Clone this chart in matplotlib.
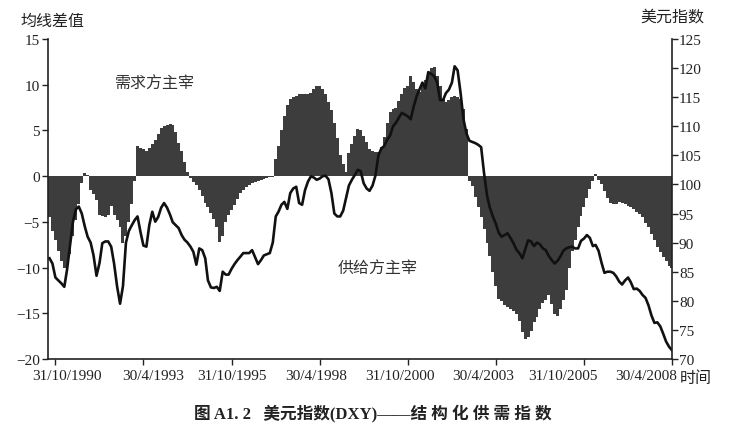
import pandas as pd
import numpy as np
import matplotlib.pyplot as plt

# monthly data, Aug 1990 .. Apr 2008
dates = pd.date_range("1990-08-31", periods=213, freq="ME")

# 均线差值 (left axis), one value per month
deviation = [
    -4.5, -6.0, -7.0, -8.2, -9.3, -10.0, -10.2, -8.5, -6.5, -4.8, -3.0, -0.8,
    0.3, 0.1, -1.5, -2.0, -2.6, -4.2, -4.4, -4.5, -4.2, -3.3, -4.2, -4.8,
    -5.6, -7.3, -6.5, -5.0, -3.0, -0.5, 3.3, 3.1, 3.0, 2.8, 3.1, 3.5,
    4.0, 4.6, 5.3, 5.5, 5.6, 5.7, 5.6, 4.8, 3.6, 2.7, 1.5, 0.4,
    -0.2, -0.6, -1.0, -1.5, -2.2, -2.9, -3.4, -4.0, -4.7, -5.6, -7.2, -6.6,
    -5.0, -4.3, -3.7, -3.2, -2.5, -1.8, -1.5, -1.2, -1.0, -0.8, -0.6, -0.5,
    -0.4, -0.3, -0.2, -0.15, -0.1, 1.9, 3.3, 5.0, 6.6, 7.8, 8.4, 8.7,
    8.8, 9.0, 9.0, 9.0, 9.0, 9.1, 9.5, 9.8, 9.8, 9.5, 9.0, 8.1,
    7.2, 5.8, 4.2, 2.3, 1.3, 0.4, 2.5, 3.5, 4.4, 5.2, 5.0, 4.4,
    3.7, 3.0, 2.7, 2.6, 2.6, 3.2, 4.3, 5.8, 7.0, 7.3, 7.5, 8.2,
    9.0, 9.6, 9.9, 11.0, 10.3, 9.5, 9.2, 9.8, 10.5, 11.3, 11.8, 11.9,
    11.0, 9.9, 8.4, 8.1, 8.3, 8.6, 8.8, 8.6, 8.4, 7.3, 5.2, -0.5,
    -1.1, -2.3, -3.4, -4.5, -5.8, -7.3, -8.7, -10.5, -12.0, -13.4, -13.7, -14.1,
    -14.3, -14.5, -14.7, -15.1, -15.8, -17.0, -17.8, -17.6, -16.9, -16.0, -15.4, -14.5,
    -13.9, -13.5, -13.0, -14.0, -15.1, -15.3, -14.5, -13.6, -12.5, -10.0, -8.2, -7.0,
    -5.6, -4.4, -3.4, -2.4, -1.4, -0.5, 0.2, -0.4, -0.9, -1.6, -2.4, -2.9,
    -3.0, -3.0, -2.8, -2.9, -3.1, -3.3, -3.4, -3.6, -3.9, -4.1, -4.5, -5.1,
    -5.6, -6.3, -7.0, -7.8, -8.3, -8.9, -9.3, -9.8, -10.1,
]

# 美元指数 DXY (right axis)
dxy = [
    87.3, 86.4, 84.0, 83.5, 83.0, 82.4, 85.3, 89.5, 93.5, 95.7, 96.2, 95.0,
    92.8, 91.0, 90.0, 87.8, 84.3, 86.5, 89.9, 90.2, 90.2, 89.3, 86.4, 82.5,
    79.5, 82.5, 90.0, 92.0, 93.0, 93.9, 94.5, 91.8, 89.5, 89.3, 93.0, 95.3,
    93.6, 94.4, 96.0, 96.8, 96.0, 94.8, 93.5, 93.0, 92.5, 91.3, 90.5, 90.0,
    89.3, 88.4, 86.2, 89.0, 88.7, 87.3, 83.5, 82.3, 82.2, 82.4, 81.7, 85.0,
    84.5, 84.5, 85.5, 86.3, 87.0, 87.6, 88.2, 88.2, 88.2, 88.7, 87.5, 86.3,
    87.0, 87.8, 88.0, 88.2, 90.0, 94.5, 95.3, 96.5, 97.0, 95.8, 98.5, 99.3,
    99.6, 96.8, 96.5, 99.0, 100.5, 101.4, 101.2, 100.8, 101.0, 101.4, 101.5, 100.9,
    98.5, 95.0, 94.5, 94.5, 95.5, 97.8, 99.8, 100.8, 101.6, 102.5, 102.3, 100.2,
    99.3, 98.9, 99.8, 101.5, 105.0, 106.2, 106.6, 107.7, 108.4, 110.0, 110.6, 111.5,
    112.3, 112.0, 111.7, 111.2, 113.4, 115.2, 116.3, 117.5, 116.5, 119.3, 119.0, 118.6,
    117.5, 114.5, 114.5, 115.7, 116.3, 117.5, 120.3, 119.6, 115.8, 111.2, 108.8, 107.5,
    107.3, 107.1, 106.8, 106.4, 101.8, 98.0, 96.0, 94.5, 93.3, 91.7, 91.0, 91.3,
    91.6, 90.8, 89.9, 88.8, 88.2, 87.3, 88.8, 90.4, 90.2, 89.4, 90.0, 89.7,
    89.0, 88.7, 87.7, 87.0, 86.4, 86.9, 87.6, 88.6, 89.0, 89.2, 89.3, 89.0,
    89.0, 90.3, 90.7, 91.3, 90.8, 89.4, 89.6, 88.6, 86.6, 84.8, 85.0, 85.0,
    84.8, 84.2, 83.3, 82.8, 83.5, 84.0, 83.2, 82.0, 82.1, 81.7, 81.0, 80.5,
    79.2, 77.5, 76.2, 76.3, 75.6, 74.3, 73.0, 72.1, 71.5,
]

tickDates = pd.to_datetime(["1990-10-31", "1993-04-30", "1995-10-31", "1998-04-30",
                            "2000-10-31", "2003-04-30", "2005-10-31", "2008-04-30"])
tickLabels = ["31/10/1990", "30/4/1993", "31/10/1995", "30/4/1998",
              "31/10/2000", "30/4/2003", "31/10/2005", "30/4/2008"]
# labels sit evenly spaced under the axis (fraction of axis width), not centred on ticks
labelPos = [0.031, 0.168, 0.295, 0.429, 0.564, 0.697, 0.825, 0.958]

fams = ["Liberation Serif", "Noto Sans CJK SC"]
plt.rcParams["font.family"] = fams
plt.rcParams["axes.unicode_minus"] = True

fig = plt.figure(figsize=(7.43, 4.39), dpi=100)
ax = fig.add_axes([0.0646, 0.18, 0.8398, 0.729])

ax.bar(dates, deviation, width=31, color="#3d3d3d", linewidth=0, align="center")
ax.set_xlim(pd.Timestamp("1990-08-15"), pd.Timestamp("2008-04-30"))
ax.set_ylim(-20, 15)
ax.set_yticks(range(-20, 16, 5))
ax.set_xticks(tickDates)
ax.set_xticklabels([])
for lab, p in zip(tickLabels, labelPos):
    ax.text(p, -0.052, lab, transform=ax.transAxes, ha="center", va="center",
            fontsize=11, color="#222222")
ax.spines["top"].set_visible(False)
ax.spines["right"].set_visible(False)
for s in ["left", "bottom"]:
    ax.spines[s].set_linewidth(1.2)
    ax.spines[s].set_color("#222222")
ax.tick_params(axis="both", labelsize=11, length=4, width=1, colors="#222222", pad=2)

ax2 = ax.twinx()
ax2.plot(dates, dxy, color="#111111", linewidth=1.9)
ax2.set_ylim(70, 125)
ax2.set_yticks(range(70, 126, 5))
ax2.spines["top"].set_visible(False)
ax2.spines["left"].set_visible(False)
ax2.spines["bottom"].set_visible(False)
ax2.spines["right"].set_linewidth(1.2)
ax2.spines["right"].set_color("#222222")
ax2.tick_params(axis="y", labelsize=11, length=4, width=1, colors="#222222", pad=1)

fig.text(20 / 743, 1 - 22 / 439, "均线差值", fontsize=11.5, va="center", ha="left", color="#222222")
fig.text(640 / 743, 1 - 18 / 439, "美元指数", fontsize=11.5, va="center", ha="left", color="#222222")
fig.text(680 / 743, 1 - 379 / 439, "时间", fontsize=11.5, va="center", ha="left", color="#222222")
fig.text(115 / 743, 1 - 85 / 439, "需求方主宰", fontsize=11.5, va="center", ha="left", color="#333333")
fig.text(338 / 743, 1 - 270 / 439, "供给方主宰", fontsize=11.5, va="center", ha="left", color="#333333")
fig.text(373 / 743, 1 - 413 / 439, "图 A1. 2   美元指数(DXY)——结 构 化 供 需 指 数",
         fontsize=12, fontweight="bold", va="center", ha="center", color="#222222")

plt.savefig("out.png", dpi=100)
